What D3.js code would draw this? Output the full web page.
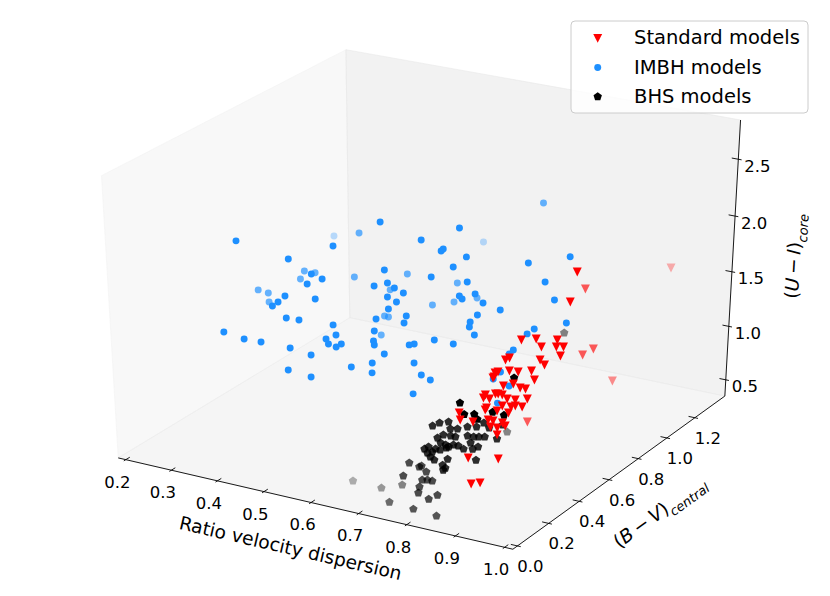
<!DOCTYPE html>
<html>
<head>
<meta charset="utf-8">
<script src="https://cdn.jsdelivr.net/npm/d3@7"></script>
<style>
body { margin: 0; background: #fff; }
svg { display: block; font-family: "DejaVu Sans", sans-serif; }
</style>
</head>
<body>
<svg width="830" height="596"></svg>
<script>
var WIDTH = 830;
var HEIGHT = 596;

// axis limits and ticks
var xLim = [0.2, 1.0];
var yLim = [0.0, 1.39];
var zLim = [0.396, 2.789];
var xTicks = [0.2, 0.3, 0.4, 0.5, 0.6, 0.7, 0.8, 0.9, 1.0];
var yTicks = [0.0, 0.2, 0.4, 0.6, 0.8, 1.0, 1.2];
var zTicks = [0.5, 1.0, 1.5, 2.0, 2.5];

// Standard models
var stdRatio = [0.924,0.867,0.911,0.932,0.881,0.903,0.916,0.936,0.939,0.950,0.951,0.905,0.918,0.922,0.932,0.869,0.874,0.922,0.861,0.865,
  0.882,0.896,0.916,0.861,0.926,0.882,0.896,0.909,0.918,0.860,0.859,0.875,0.879,0.886,0.896,0.909,0.927,0.869,0.870,0.869,
  0.893,0.907,0.924,0.888,0.907,0.861,0.880,0.888,0.904,0.910,0.888,0.899,0.903,0.858,0.831,0.837,0.873,0.920,0.894,0.907,
  0.862,0.913];
var stdBV = [0.650,0.897,1.345,0.583,0.435,0.460,0.453,0.491,0.476,0.487,0.465,0.765,0.794,0.427,0.424,0.373,0.383,0.920,0.333,0.339,
  0.358,0.370,0.392,0.320,0.380,0.321,0.340,0.343,0.349,0.276,0.267,0.293,0.298,0.302,0.302,0.313,0.333,0.274,0.253,0.248,
  0.281,0.293,0.310,0.264,0.277,0.548,0.233,0.239,0.249,0.248,0.223,0.232,0.219,0.206,0.202,0.190,0.131,0.175,0.086,0.102,
  0.324,0.301];
var stdUI = [2.072,1.663,1.508,1.877,1.630,1.637,1.585,1.630,1.585,1.585,1.526,1.223,1.263,1.500,1.468,1.500,1.513,0.861,1.416,1.422,
  1.429,1.422,1.429,1.383,1.370,1.331,1.344,1.318,1.312,1.273,1.253,1.279,1.279,1.273,1.247,1.240,1.247,1.247,1.188,1.175,
  1.201,1.195,1.195,1.169,1.156,0.776,1.110,1.104,1.091,1.071,1.065,1.058,1.013,1.097,1.156,1.110,0.863,0.857,0.694,0.701,
  1.390,1.201];

// IMBH models
var imbhRatio = [0.342,0.554,0.327,0.456,0.496,0.435,0.394,0.480,0.412,0.393,0.480,0.500,0.333,0.351,0.453,0.358,0.440,0.446,0.502,0.477,
  0.591,0.559,0.585,0.604,0.542,0.618,0.635,0.613,0.630,0.622,0.550,0.557,0.609,0.654,0.655,0.469,0.490,0.381,0.417,0.445,
  0.494,0.546,0.544,0.557,0.551,0.565,0.571,0.531,0.614,0.557,0.619,0.623,0.644,0.677,0.601,0.631,0.637,0.505,0.545,0.696,
  0.714,0.684,0.715,0.729,0.681,0.629,0.574,0.669,0.667,0.710,0.668,0.696,0.810,0.871,0.644,0.727,0.848,0.724,0.730,0.651,
  0.747,0.685,0.765,0.619,0.874,0.796,0.764,0.757,0.759,0.772,0.713,0.745,0.861,0.853,0.907,0.842,0.838,0.836,0.829,0.858,
  0.851,0.732];
var imbhBV = [0.285,0.545,0.914,0.700,0.426,0.331,0.539,0.339,0.553,0.517,0.313,0.346,0.429,0.439,0.256,0.423,0.217,0.234,0.297,0.607,
  0.460,0.697,0.414,0.440,0.639,0.441,0.446,0.413,0.418,0.392,0.579,0.583,0.354,0.407,0.390,0.216,0.232,0.092,0.110,0.131,
  0.165,0.276,0.238,0.261,0.232,0.238,0.252,0.184,0.328,0.537,0.308,0.301,0.300,0.356,0.224,0.264,0.245,0.120,0.142,0.329,
  0.269,0.366,0.317,1.051,0.657,0.575,1.145,0.592,0.585,0.613,0.520,0.573,0.698,0.775,0.759,0.567,0.688,0.527,0.526,0.717,
  0.556,0.761,0.551,0.676,0.668,0.565,0.519,0.495,0.484,0.476,0.404,0.426,0.581,0.561,0.643,0.508,0.495,0.446,0.422,0.434,
  0.382,0.322];
var imbhUI = [2.158,2.282,1.669,1.979,2.125,2.039,1.724,1.941,1.711,1.670,1.875,1.908,1.597,1.576,1.796,1.516,1.731,1.757,1.777,1.684,
  1.967,1.704,1.862,1.882,1.597,1.849,1.816,1.790,1.757,1.711,1.422,1.416,1.645,1.665,1.619,1.652,1.639,1.560,1.514,1.494,
  1.455,1.606,1.514,1.540,1.481,1.461,1.481,1.409,1.566,1.295,1.501,1.475,1.415,1.475,1.330,1.356,1.291,1.310,1.264,1.356,
  1.153,1.481,1.277,2.180,2.243,2.164,1.627,2.105,2.092,2.053,1.921,1.987,2.013,2.053,1.643,1.888,1.888,1.796,1.777,1.516,
  1.810,1.543,1.750,1.496,1.770,1.704,1.672,1.626,1.593,1.540,1.507,1.481,1.580,1.547,1.619,1.442,1.415,1.297,1.251,1.205,
  1.093,1.245];

// BHS models
var bhsRatio = [0.859,0.873,0.888,0.896,0.805,0.814,0.827,0.845,0.834,0.873,0.882,0.820,0.827,0.839,0.847,0.865,0.875,0.883,0.892,0.828,
  0.837,0.843,0.849,0.857,0.867,0.874,0.881,0.888,0.807,0.812,0.821,0.824,0.832,0.840,0.814,0.821,0.829,0.849,0.893,0.845,
  0.851,0.849,0.772,0.790,0.793,0.804,0.771,0.803,0.811,0.819,0.803,0.738,0.694,0.631,0.805,0.746,0.825,0.836,0.801,0.841,
  0.915,0.934,0.868,0.912,0.926,0.894,0.859,0.912,0.893];
var bhsBV = [0.120,0.104,0.120,0.115,0.116,0.132,0.148,0.149,0.138,0.182,0.200,0.101,0.116,0.125,0.130,0.151,0.158,0.166,0.175,0.096,
  0.100,0.101,0.112,0.118,0.120,0.142,0.134,0.146,0.060,0.070,0.066,0.077,0.082,0.096,0.057,0.054,0.054,0.076,0.118,0.057,
  0.056,0.049,0.071,0.079,0.084,0.080,0.037,0.058,0.066,0.072,0.041,0.128,0.129,0.138,0.028,0.025,0.032,0.053,0.009,0.032,
  0.151,0.163,0.394,0.190,0.249,0.673,0.168,0.226,0.199];
var bhsUI = [1.348,1.275,1.275,1.243,1.098,1.118,1.124,1.078,1.078,1.091,1.118,1.019,1.039,1.033,1.026,1.033,1.026,1.026,1.026,0.987,
  0.974,0.961,0.974,0.967,0.947,0.987,0.947,0.961,0.947,0.961,0.928,0.947,0.941,0.954,0.921,0.895,0.876,0.882,0.876,0.843,
  0.823,0.810,0.778,0.752,0.758,0.719,0.693,0.667,0.667,0.660,0.621,0.489,0.416,0.409,0.582,0.443,0.542,0.569,0.451,0.405,
  1.289,1.269,0.838,1.013,1.509,1.492,1.091,1.104,1.085];

var seriesNames = ["Standard models", "IMBH models", "BHS models"];

// ---- 3d view (elev 30, azim -60, like mplot3d) ----
var elev = 30 * Math.PI / 180, azim = -60 * Math.PI / 180, dist = 10;
function dot(a, b) { return a[0] * b[0] + a[1] * b[1] + a[2] * b[2]; }
function cross(a, b) { return [a[1] * b[2] - a[2] * b[1], a[2] * b[0] - a[0] * b[2], a[0] * b[1] - a[1] * b[0]]; }
function unit(a) { var m = Math.sqrt(dot(a, a)); return [a[0] / m, a[1] / m, a[2] / m]; }

var eye = [0.5 + dist * Math.cos(elev) * Math.cos(azim),
           0.5 + dist * Math.cos(elev) * Math.sin(azim),
           0.5 + dist * Math.sin(elev)];
var nvec = unit([eye[0] - 0.5, eye[1] - 0.5, eye[2] - 0.5]);
var uvec = unit(cross([0, 0, 1], nvec));
var vvec = cross(nvec, uvec);

// projected view coords -> pixels
var sx = d3.scaleLinear().domain([-0.095, 0.09]).range([11, 820]);
var sy = d3.scaleLinear().domain([-0.095, 0.09]).range([584.3, 12.3]);

// data -> unit cube
var nx = d3.scaleLinear().domain(xLim).range([0, 1]);
var ny = d3.scaleLinear().domain(yLim).range([0, 1]);
var nz = d3.scaleLinear().domain(zLim).range([0, 1]);

function proj(p) {
    var d = [p[0] - eye[0], p[1] - eye[1], p[2] - eye[2]];
    var w = -dot(nvec, d);
    return [sx(dot(uvec, d) / w), sy(dot(vvec, d) / w), w];
}

var PAD = 1 / 48;
var LO = -PAD, HI = 1 + PAD;
var TICK_IN = 0.2 / 12, TICK_OUT = 0.1 / 12;

var svg = d3.select("svg")
    .attr("width", WIDTH)
    .attr("height", HEIGHT);

svg.append("rect").attr("width", WIDTH).attr("height", HEIGHT).attr("fill", "#ffffff");

// panes
var panes = [
    {c: "rgb(242,242,242)", pts: [[LO, LO, LO], [LO, HI, LO], [LO, HI, HI], [LO, LO, HI]]},
    {c: "rgb(230,230,230)", pts: [[LO, HI, LO], [HI, HI, LO], [HI, HI, HI], [LO, HI, HI]]},
    {c: "rgb(236,236,236)", pts: [[LO, LO, LO], [HI, LO, LO], [HI, HI, LO], [LO, HI, LO]]}
];
svg.append("g").selectAll("polygon")
    .data(panes)
    .enter()
    .append("polygon")
    .attr("points", function(d) {
        return d.pts.map(function(p) { var q = proj(p); return q[0] + "," + q[1]; }).join(" ");
    })
    .attr("fill", function(d) { return d.c; })
    .attr("fill-opacity", 0.5)
    .attr("stroke", function(d) { return d.c; })
    .attr("stroke-opacity", 0.5)
    .attr("stroke-width", 1);

// axes
var axes = [
    {ticks: xTicks, scale: nx, pos: function(t) { return [t, LO, LO]; },
     tick: function(t) { return [[t, LO - TICK_OUT, LO], [t, LO + TICK_IN, LO]]; },
     a: [LO, LO, LO], b: [HI, LO, LO], off: [-8.5, 22]},
    {ticks: yTicks, scale: ny, pos: function(t) { return [HI, t, LO]; },
     tick: function(t) { return [[HI + TICK_OUT, t, LO], [HI - TICK_IN, t, LO]]; },
     a: [HI, LO, LO], b: [HI, HI, LO], off: [13, 20]},
    {ticks: zTicks, scale: nz, pos: function(t) { return [HI, HI, t]; },
     tick: function(t) { return [[HI + TICK_OUT, HI, t], [HI - TICK_IN, HI, t]]; },
     a: [HI, HI, LO], b: [HI, HI, HI], off: [19, 6.5]}
];

var gAxes = svg.append("g");
axes.forEach(function(ax) {
    var p1 = proj(ax.a), p2 = proj(ax.b);
    gAxes.append("line")
        .attr("x1", p1[0]).attr("y1", p1[1])
        .attr("x2", p2[0]).attr("y2", p2[1])
        .attr("stroke", "#000").attr("stroke-width", 0.9);
    ax.ticks.forEach(function(t) {
        var s = ax.scale(t);
        var tk = ax.tick(s);
        var q1 = proj(tk[0]), q2 = proj(tk[1]);
        gAxes.append("line")
            .attr("x1", q1[0]).attr("y1", q1[1])
            .attr("x2", q2[0]).attr("y2", q2[1])
            .attr("stroke", "#000").attr("stroke-width", 0.9);
        var q = proj(ax.pos(s));
        gAxes.append("text")
            .attr("x", q[0] + ax.off[0])
            .attr("y", q[1] + ax.off[1])
            .attr("dy", "0.36em")
            .attr("text-anchor", "middle")
            .attr("font-size", 16.5)
            .attr("fill", "#000")
            .text(d3.format(".1f")(t));
    });
});

// axis titles
function axisTitle(a, b, off) {
    var p1 = proj(a), p2 = proj(b);
    var ang = Math.atan2(p2[1] - p1[1], p2[0] - p1[0]) * 180 / Math.PI;
    var mx = (p1[0] + p2[0]) / 2 + off[0], my = (p1[1] + p2[1]) / 2 + off[1];
    return svg.append("text")
        .attr("transform", "translate(" + mx + "," + my + ") rotate(" + ang + ")")
        .attr("text-anchor", "middle")
        .attr("dy", "0.35em")
        .attr("font-size", 18.6)
        .attr("fill", "#000");
}

axisTitle(axes[0].a, axes[0].b, [-25, 44.5]).text("Ratio velocity dispersion");

var ty = axisTitle(axes[1].a, axes[1].b, [40.5, 39]);
ty.append("tspan").text("(");
ty.append("tspan").attr("font-style", "italic").text("B");
ty.append("tspan").text("\u2009\u2212\u2009");
ty.append("tspan").attr("font-style", "italic").text("V");
ty.append("tspan").text(")");
ty.append("tspan").attr("font-style", "italic").attr("font-size", 13).attr("dy", 6).text("central");

var tz = axisTitle(axes[2].a, axes[2].b, [61, -2]);
tz.append("tspan").text("(");
tz.append("tspan").attr("font-style", "italic").text("U");
tz.append("tspan").text("\u2009\u2212\u2009");
tz.append("tspan").attr("font-style", "italic").text("I");
tz.append("tspan").text(")");
tz.append("tspan").attr("font-style", "italic").attr("font-size", 13).attr("dy", 6).text("core");

// markers
var triDown = {draw: function(ctx, size) {
    var r = Math.sqrt(size) / 2;
    ctx.moveTo(-r, -r); ctx.lineTo(r, -r); ctx.lineTo(0, r); ctx.closePath();
}};
var pentagon = {draw: function(ctx, size) {
    var r = Math.sqrt(size);
    for (var i = 0; i < 5; i++) {
        var a = (-90 + 72 * i) * Math.PI / 180;
        if (i === 0) ctx.moveTo(r * Math.cos(a), r * Math.sin(a));
        else ctx.lineTo(r * Math.cos(a), r * Math.sin(a));
    }
    ctx.closePath();
}};

var groups = [
    {name: seriesNames[1], xs: imbhRatio, ys: imbhBV, zs: imbhUI, color: "#1e90ff",
     sym: d3.symbol().type(d3.symbolCircle).size(38)},
    {name: seriesNames[2], xs: bhsRatio, ys: bhsBV, zs: bhsUI, color: "#000000",
     sym: d3.symbol().type(pentagon).size(19.5)},
    {name: seriesNames[0], xs: stdRatio, ys: stdBV, zs: stdUI, color: "#ff0000",
     sym: d3.symbol().type(triDown).size(80)}
];

groups.forEach(function(g) {
    var pts = g.xs.map(function(x, i) {
        var q = proj([nx(x), ny(g.ys[i]), nz(g.zs[i])]);
        return {px: q[0], py: q[1], w: q[2]};
    });
    // depth shading as in mplot3d
    var vz = pts.map(function(p) { return -1 / p.w; });
    var lo = d3.min(vz), hi = d3.max(vz);
    pts.forEach(function(p, i) { p.alpha = 1 - 0.7 * (vz[i] - lo) / (hi - lo); });
    pts.sort(function(a, b) { return b.w - a.w; });

    svg.append("g").selectAll("path")
        .data(pts)
        .enter()
        .append("path")
        .attr("d", g.sym)
        .attr("transform", function(d) { return "translate(" + d.px + "," + d.py + ")"; })
        .attr("fill", g.color)
        .attr("fill-opacity", function(d) { return d.alpha; });
});

// legend
var legend = svg.append("g");
legend.append("rect")
    .attr("x", 571).attr("y", 21)
    .attr("width", 237).attr("height", 92)
    .attr("rx", 4)
    .attr("fill", "#ffffff").attr("fill-opacity", 0.8)
    .attr("stroke", "#cccccc").attr("stroke-width", 1);

var legendItems = [groups[2], groups[0], groups[1]];
var rowY = [38.4, 67.5, 96.6];
legendItems.forEach(function(g, i) {
    legend.append("path")
        .attr("d", g.sym)
        .attr("transform", "translate(597.7," + rowY[i] + ")")
        .attr("fill", g.color);
    legend.append("text")
        .attr("x", 634)
        .attr("y", rowY[i] + 6)
        .attr("font-size", 19.5)
        .attr("fill", "#000")
        .text(g.name);
});
</script>
</body>
</html>
